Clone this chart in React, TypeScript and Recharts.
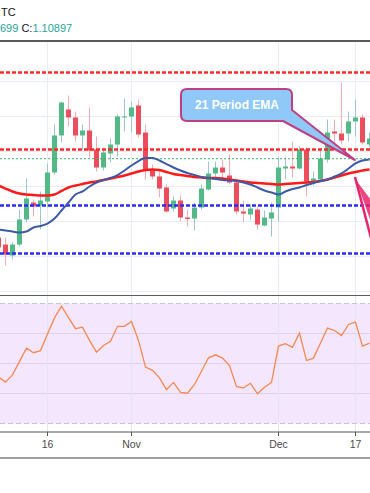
import React from 'react';
import {
  ComposedChart,
  Bar,
  Line,
  XAxis,
  YAxis,
  CartesianGrid,
  ReferenceLine,
  ReferenceArea,
} from 'recharts';

// daily sessions, first one is only half visible on the left edge
const dates = [
  '2019-10-07', '2019-10-08', '2019-10-09', '2019-10-10', '2019-10-11',
  '2019-10-14', '2019-10-15', '2019-10-16', '2019-10-17', '2019-10-18',
  '2019-10-21', '2019-10-22', '2019-10-23', '2019-10-24', '2019-10-25',
  '2019-10-28', '2019-10-29', '2019-10-30', '2019-10-31', '2019-11-01',
  '2019-11-04', '2019-11-05', '2019-11-06', '2019-11-07', '2019-11-08',
  '2019-11-11', '2019-11-12', '2019-11-13', '2019-11-14', '2019-11-15',
  '2019-11-18', '2019-11-19', '2019-11-20', '2019-11-21', '2019-11-22',
  '2019-11-25', '2019-11-26', '2019-11-27', '2019-11-28', '2019-11-29',
  '2019-12-02', '2019-12-03', '2019-12-04', '2019-12-05', '2019-12-06',
  '2019-12-09', '2019-12-10', '2019-12-11', '2019-12-12', '2019-12-13',
  '2019-12-16', '2019-12-17', '2019-12-18', '2019-12-19',
];

const open = [
  1.09771, 1.09671, 1.09514, 1.09671, 1.10029, 1.10271, 1.10229, 1.10286, 1.107, 1.11229,
  1.116, 1.11486, 1.11229, 1.113, 1.11029, 1.10771, 1.10971, 1.111, 1.11486, 1.115,
  1.11657, 1.11271, 1.10743, 1.10643, 1.10486, 1.10186, 1.103, 1.10057, 1.10043, 1.102,
  1.10457, 1.10686, 1.10771, 1.10657, 1.10557, 1.10143, 1.101, 1.10171, 1.09943, 1.10043,
  1.102, 1.10757, 1.10786, 1.10757, 1.11029, 1.10557, 1.106, 1.10886, 1.11286, 1.11257,
  1.11257, 1.11429, 1.11486, 1.111,
];
const high = [
  1.09857, 1.09771, 1.097, 1.10171, 1.10614, 1.10314, 1.10429, 1.10829, 1.11386, 1.11714,
  1.118, 1.11571, 1.11386, 1.11629, 1.11214, 1.11029, 1.11186, 1.11529, 1.11757, 1.11714,
  1.11743, 1.11386, 1.10814, 1.10743, 1.10529, 1.10357, 1.10371, 1.10171, 1.10271, 1.10529,
  1.10857, 1.10857, 1.10886, 1.10957, 1.106, 1.103, 1.10243, 1.10214, 1.10157, 1.10271,
  1.10914, 1.10914, 1.11143, 1.11071, 1.11057, 1.10714, 1.11029, 1.11457, 1.11457, 1.11986,
  1.11571, 1.11743, 1.11529, 1.11271,
];
const low = [
  1.09571, 1.09371, 1.09457, 1.09643, 1.09986, 1.10071, 1.09886, 1.102, 1.10671, 1.11129,
  1.11357, 1.11143, 1.11029, 1.10914, 1.10714, 1.10729, 1.10843, 1.10929, 1.11286, 1.11271,
  1.112, 1.106, 1.106, 1.10343, 1.10129, 1.10143, 1.1, 1.09929, 1.09871, 1.10171,
  1.10443, 1.106, 1.106, 1.10529, 1.101, 1.1, 1.10029, 1.09886, 1.09929, 1.09786,
  1.1, 1.106, 1.10629, 1.10743, 1.10357, 1.10514, 1.10586, 1.10843, 1.11029, 1.111,
  1.11143, 1.11214, 1.111, 1.11057,
];
const close = [
  1.09629, 1.09529, 1.09671, 1.10029, 1.10329, 1.10214, 1.103, 1.107, 1.11229, 1.117,
  1.11486, 1.11229, 1.113, 1.11014, 1.10771, 1.10986, 1.111, 1.115, 1.115, 1.11629,
  1.11243, 1.10743, 1.10643, 1.10471, 1.10143, 1.103, 1.10057, 1.10036, 1.102, 1.10471,
  1.10686, 1.10771, 1.107, 1.10557, 1.10143, 1.10114, 1.10186, 1.09957, 1.10057, 1.10129,
  1.10771, 1.10786, 1.10757, 1.11029, 1.10571, 1.10614, 1.109, 1.11271, 1.11257, 1.11157,
  1.11429, 1.11486, 1.11129, 1.11186,
];

const ema21 = [
  1.09886, 1.09871, 1.09857, 1.09843, 1.09857, 1.09914, 1.09936, 1.09971, 1.10043, 1.10157,
  1.10271, 1.10386, 1.10429, 1.105, 1.10557, 1.10593, 1.10621, 1.10664, 1.10729, 1.108,
  1.10864, 1.10907, 1.10907, 1.10871, 1.10821, 1.10771, 1.10729, 1.10693, 1.10664, 1.10636,
  1.10621, 1.10607, 1.10593, 1.10586, 1.10579, 1.10557, 1.10529, 1.10486, 1.10443, 1.10414,
  1.10386, 1.10429, 1.10464, 1.10486, 1.10521, 1.1055, 1.10579, 1.106, 1.10643, 1.10686,
  1.10757, 1.10829, 1.10871, 1.10886,
];
const ema50 = [
  1.10514, 1.10471, 1.10429, 1.104, 1.10386, 1.10379, 1.10371, 1.10371, 1.10386, 1.10436,
  1.10486, 1.10514, 1.10536, 1.10557, 1.10571, 1.10593, 1.10614, 1.10636, 1.10657, 1.10686,
  1.10714, 1.10736, 1.10743, 1.10736, 1.10707, 1.10679, 1.10664, 1.1065, 1.10636, 1.10629,
  1.10621, 1.10621, 1.10614, 1.106, 1.10586, 1.10571, 1.10557, 1.1055, 1.10543, 1.10536,
  1.10529, 1.10536, 1.10543, 1.1055, 1.10557, 1.10564, 1.10579, 1.106, 1.10629, 1.10657,
  1.10686, 1.10707, 1.10729, 1.10743,
];

const rsi = [
  45.5, 43.8, 46.2, 50.7, 55.1, 53.6, 54.3, 59.8, 65.2, 69.1,
  65.3, 61.6, 62.1, 57.7, 53.8, 56, 57.4, 62.4, 62.4, 64,
  57.7, 48.8, 47.7, 45.2, 41.3, 43.7, 40.4, 40.1, 43, 47.4,
  51.9, 52.9, 51.8, 49.3, 42.3, 41.9, 43.4, 39.9, 42.1, 43.7,
  55.8, 56.6, 55.4, 60.1, 51, 51.8, 56.8, 61.8, 61, 59.3,
  63, 63.8, 55.8, 56.8,
];

// session index of each date label on the time axis
const tickIdx = [6, 18, 39, 50];
const tickLabels = ['16', 'Nov', 'Dec', '17'];

const priceGrid = [1.125, 1.12, 1.115, 1.11, 1.105, 1.1, 1.095, 1.09];
const redLevels = [1.12129, 1.11029];
const blueLevels = [1.10229, 1.09543];
const lastPrice = 1.10897;
const rsiGrid = [60, 50, 40];

const X_MIN = -0.785714;
const X_MAX = 52.071429;
const P_MIN = 1.0895;
const P_MAX = 1.125786;
const RSI_MIN = 27.1667;
const RSI_MAX = 72.8333;

const UP = '#53b987';
const DOWN = '#eb4d5c';
const UP_WICK = '#9fc6c4';
const DOWN_WICK = '#f5abb3';
const TEAL = '#26a69a';

const rows = dates.map((d, n) => ({
  i: n - 1,
  date: d,
  open: open[n],
  high: high[n],
  low: low[n],
  close: close[n],
  range: [low[n], high[n]],
  ema21: ema21[n],
  ema50: ema50[n],
  rsi: rsi[n],
}));

function Candle(props: any) {
  const { x, y, width, height, payload } = props;
  if (!payload) return null;
  const top = Math.min(y, y + height);
  const h = Math.abs(height);
  const k = h / (payload.high - payload.low || 1);
  const cx = Math.floor(x + width / 2) + 0.5;
  const bodyTop = top + (payload.high - Math.max(payload.open, payload.close)) * k;
  const bodyBot = top + (payload.high - Math.min(payload.open, payload.close)) * k;
  const up = payload.close >= payload.open;
  return (
    <g>
      <line x1={cx} x2={cx} y1={top} y2={top + h} stroke={up ? UP_WICK : DOWN_WICK} strokeWidth={1} />
      <rect
        x={cx - 2.5}
        y={bodyTop}
        width={5}
        height={Math.max(1, bodyBot - bodyTop)}
        fill={up ? UP : DOWN}
      />
    </g>
  );
}

function PricePane() {
  return (
    <ComposedChart width={370} height={254} data={rows} margin={{ top: 0, right: 0, bottom: 0, left: 0 }}>
      <CartesianGrid
        horizontalValues={priceGrid}
        verticalValues={tickIdx}
        stroke="#e8edf3"
        strokeWidth={1}
      />
      <XAxis type="number" dataKey="i" domain={[X_MIN, X_MAX]} allowDataOverflow hide />
      <YAxis type="number" domain={[P_MIN, P_MAX]} allowDataOverflow hide />
      <Bar dataKey="range" barSize={5} shape={<Candle />} isAnimationActive={false} />
      {redLevels.map((v) => (
        <ReferenceLine key={v} y={v} stroke="#ff2a2a" strokeWidth={2.5} strokeDasharray="4 2" />
      ))}
      <ReferenceLine y={lastPrice} stroke="#3fae6a" strokeWidth={1} strokeDasharray="2 2" />
      {blueLevels.map((v) => (
        <ReferenceLine key={v} y={v} stroke="#2b2bff" strokeWidth={2.5} strokeDasharray="4 2" />
      ))}
      <Line type="monotone" dataKey="ema50" stroke="#ff1a1a" strokeWidth={2.5} dot={false} isAnimationActive={false} />
      <Line type="monotone" dataKey="ema21" stroke="#3d5aa8" strokeWidth={2} dot={false} isAnimationActive={false} />
    </ComposedChart>
  );
}

function RsiPane() {
  return (
    <ComposedChart width={370} height={163} data={rows} margin={{ top: 0, right: 0, bottom: 0, left: 0 }}>
      <XAxis
        type="number"
        dataKey="i"
        domain={[X_MIN, X_MAX]}
        allowDataOverflow
        ticks={tickIdx}
        interval={0}
        height={26}
        tickSize={4}
        tickMargin={5}
        axisLine={{ stroke: '#555' }}
        tickLine={{ stroke: '#555' }}
        tick={{ fontSize: 10.5, fill: '#4c4c4c' }}
        tickFormatter={(v) => tickLabels[tickIdx.indexOf(v)]}
      />
      <YAxis type="number" domain={[RSI_MIN, RSI_MAX]} allowDataOverflow hide />
      <ReferenceArea y1={30} y2={70} fill="#f3e6fd" fillOpacity={1} stroke="none" />
      {rsiGrid.map((v) => (
        <ReferenceLine key={v} y={v} stroke="#ddd2ec" strokeWidth={1} />
      ))}
      {tickIdx.map((k) => (
        <ReferenceLine key={k} x={k} stroke="#e2e6f2" strokeWidth={1} />
      ))}
      <ReferenceLine y={70} stroke="#cbc1d8" strokeDasharray="5 3" />
      <ReferenceLine y={30} stroke="#cbc1d8" strokeDasharray="5 3" />
      <Line type="linear" dataKey="rsi" stroke="#f5884f" strokeWidth={1.3} dot={false} isAnimationActive={false} />
    </ComposedChart>
  );
}

export default function App() {
  return (
    <div
      style={{
        position: 'absolute',
        left: 0,
        top: 0,
        width: 370,
        height: 493,
        background: '#fff',
        overflow: 'hidden',
        fontFamily: '"Liberation Sans", Arial, sans-serif',
      }}
    >
      <div style={{ position: 'absolute', left: 1, top: 6, fontSize: 11, lineHeight: '12px', color: '#131722' }}>
        TC
      </div>
      <div style={{ position: 'absolute', left: 0, top: 22, fontSize: 11, lineHeight: '12px', whiteSpace: 'pre' }}>
        <span style={{ color: TEAL }}>699</span>
        <span style={{ color: '#131722' }}> C:</span>
        <span style={{ color: TEAL }}>1.10897</span>
      </div>

      <div style={{ position: 'absolute', left: 0, top: 41 }}>
        <PricePane />
      </div>
      <div style={{ position: 'absolute', left: 0, top: 295 }}>
        <RsiPane />
      </div>

      <div style={{ position: 'absolute', left: 0, top: 40, width: 370, height: 1.5, background: '#5a5a5a' }} />
      <div style={{ position: 'absolute', left: 0, top: 295, width: 370, height: 1, background: '#5a5a5a' }} />
      <div style={{ position: 'absolute', left: 0, top: 457, width: 370, height: 1.5, background: '#a0a0a0' }} />

      {/* drawing tools on top of the chart */}
      <svg width={370} height={493} style={{ position: 'absolute', left: 0, top: 0, pointerEvents: 'none' }}>
        <path
          d="M187 89 H286 Q292 89 292 95 V110 L355 160 L283 121 H187 Q181 121 181 115 V95 Q181 89 187 89 Z"
          fill="#90c9f8"
          stroke="#bf3f80"
          strokeWidth={2}
          strokeLinejoin="round"
        />
        <text x={237} y={109} textAnchor="middle" fill="#fff" fontSize={12} fontWeight="bold">
          21 Period EMA
        </text>
        <path d="M355 177 L371 238" stroke="#e8246c" strokeWidth={2.5} fill="none" />
        <polygon points="356,180 371,200 371,222" fill="#e8246c" opacity={0.85} />
      </svg>
    </div>
  );
}
